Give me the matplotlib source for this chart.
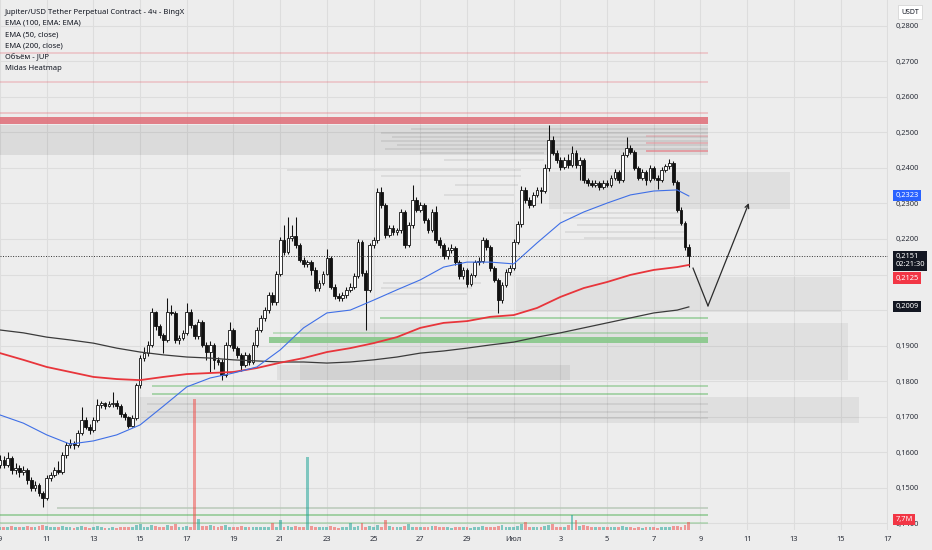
import matplotlib
matplotlib.use("Agg")
import matplotlib.pyplot as plt
import numpy as np
from matplotlib.patches import Rectangle

plt.rcParams["font.family"] = ["Noto Sans", "DejaVu Sans"]

# ---- 4h candles, JUP/USDT, from 9 June (one row = one day, 6 candles) ----
first_open = 0.1565
closes = [
    0.1578, 0.1564, 0.1584, 0.1550, 0.1556, 0.1545,
    0.1550, 0.1522, 0.1500, 0.1508, 0.1486, 0.1471,
    0.1528, 0.1536, 0.1550, 0.1545, 0.1592, 0.1621,
    0.1626, 0.1621, 0.1654, 0.1691, 0.1671, 0.1663,
    0.1691, 0.1733, 0.1738, 0.1730, 0.1736, 0.1739,
    0.1730, 0.1708, 0.1699, 0.1674, 0.1696, 0.1789,
    0.1865, 0.1879, 0.1902, 0.1995, 0.1955, 0.1930,
    0.1916, 0.1995, 0.1992, 0.1916, 0.1922, 0.1936,
    0.1995, 0.1958, 0.1927, 0.1967, 0.1902, 0.1882,
    0.1902, 0.1860, 0.1854, 0.1817, 0.1902, 0.1944,
    0.1893, 0.1874, 0.1846, 0.1874, 0.1854, 0.1902,
    0.1944, 0.1978, 0.2000, 0.2042, 0.2023, 0.2102,
    0.2197, 0.2163, 0.2203, 0.2208, 0.2183, 0.2141,
    0.2130, 0.2136, 0.2113, 0.2062, 0.2076, 0.2102,
    0.2147, 0.2065, 0.2040, 0.2034, 0.2042, 0.2057,
    0.2065, 0.2096, 0.2192, 0.2104, 0.2057, 0.2183,
    0.2197, 0.2332, 0.2296, 0.2211, 0.2231, 0.2220,
    0.2225, 0.2276, 0.2183, 0.2239, 0.2310, 0.2282,
    0.2296, 0.2253, 0.2225, 0.2276, 0.2197, 0.2183,
    0.2152, 0.2169, 0.2175, 0.2135, 0.2096, 0.2113,
    0.2073, 0.2099, 0.2135, 0.2138, 0.2197, 0.2178,
    0.2118, 0.2085, 0.2028, 0.2071, 0.2107, 0.2118,
    0.2192, 0.2242, 0.2338, 0.2310, 0.2296, 0.2324,
    0.2338, 0.2335, 0.2400, 0.2478, 0.2442, 0.2422,
    0.2403, 0.2422, 0.2408, 0.2442, 0.2408, 0.2422,
    0.2366, 0.2358, 0.2352, 0.2358, 0.2346, 0.2358,
    0.2352, 0.2372, 0.2389, 0.2366, 0.2436, 0.2456,
    0.2445, 0.2400, 0.2372, 0.2389, 0.2366, 0.2400,
    0.2372, 0.2366, 0.2394, 0.2405, 0.2414, 0.2360,
    0.2282, 0.2245, 0.2178, 0.2151,
]
highs = [
    0.1592, 0.1590, 0.1600, 0.1590, 0.1570, 0.1565,
    0.1562, 0.1555, 0.1530, 0.1520, 0.1515, 0.1492,
    0.1535, 0.1545, 0.1558, 0.1575, 0.1600, 0.1630,
    0.1636, 0.1632, 0.1662, 0.1728, 0.1700, 0.1680,
    0.1700, 0.1750, 0.1745, 0.1742, 0.1745, 0.1770,
    0.1748, 0.1736, 0.1712, 0.1703, 0.1705, 0.1795,
    0.1875, 0.1895, 0.1912, 0.2005, 0.1998, 0.1962,
    0.1935, 0.2035, 0.2015, 0.1998, 0.1930, 0.1945,
    0.2020, 0.2002, 0.1962, 0.1975, 0.1972, 0.1910,
    0.1912, 0.1908, 0.1868, 0.1862, 0.1910, 0.1966,
    0.1950, 0.1900, 0.1880, 0.1882, 0.1880, 0.1910,
    0.1952, 0.1985, 0.2010, 0.2050, 0.2052, 0.2110,
    0.2205, 0.2240, 0.2262, 0.2240, 0.2262, 0.2190,
    0.2150, 0.2142, 0.2140, 0.2120, 0.2085, 0.2110,
    0.2172, 0.2152, 0.2072, 0.2048, 0.2050, 0.2064,
    0.2075, 0.2105, 0.2200, 0.2198, 0.2112, 0.2190,
    0.2205, 0.2343, 0.2345, 0.2302, 0.2240, 0.2238,
    0.2232, 0.2285, 0.2282, 0.2248, 0.2353, 0.2318,
    0.2305, 0.2302, 0.2260, 0.2285, 0.2292, 0.2205,
    0.2188, 0.2178, 0.2185, 0.2180, 0.2140, 0.2120,
    0.2118, 0.2105, 0.2142, 0.2148, 0.2205, 0.2202,
    0.2182, 0.2125, 0.2090, 0.2078, 0.2115, 0.2128,
    0.2200, 0.2250, 0.2350, 0.2345, 0.2318, 0.2332,
    0.2345, 0.2345, 0.2410, 0.2521, 0.2490, 0.2450,
    0.2430, 0.2432, 0.2440, 0.2462, 0.2450, 0.2432,
    0.2428, 0.2372, 0.2365, 0.2366, 0.2362, 0.2365,
    0.2366, 0.2380, 0.2398, 0.2395, 0.2445, 0.2487,
    0.2465, 0.2450, 0.2405, 0.2396, 0.2395, 0.2408,
    0.2405, 0.2380, 0.2402, 0.2412, 0.2425, 0.2420,
    0.2365, 0.2290, 0.2252, 0.2185,
]
lows = [
    0.1555, 0.1555, 0.1558, 0.1540, 0.1538, 0.1530,
    0.1535, 0.1510, 0.1490, 0.1492, 0.1478, 0.1446,
    0.1465, 0.1520, 0.1530, 0.1540, 0.1540, 0.1585,
    0.1612, 0.1610, 0.1615, 0.1650, 0.1665, 0.1652,
    0.1658, 0.1685, 0.1725, 0.1722, 0.1726, 0.1728,
    0.1722, 0.1700, 0.1690, 0.1668, 0.1670, 0.1690,
    0.1780, 0.1858, 0.1872, 0.1895, 0.1945, 0.1922,
    0.1880, 0.1910, 0.1985, 0.1908, 0.1905, 0.1915,
    0.1930, 0.1950, 0.1918, 0.1920, 0.1895, 0.1860,
    0.1825, 0.1835, 0.1845, 0.1803, 0.1812, 0.1895,
    0.1885, 0.1865, 0.1830, 0.1840, 0.1845, 0.1848,
    0.1895, 0.1938, 0.1970, 0.1992, 0.2015, 0.2015,
    0.2095, 0.2155, 0.2158, 0.2195, 0.2175, 0.2135,
    0.2122, 0.2122, 0.2100, 0.2055, 0.2055, 0.2070,
    0.2098, 0.2058, 0.2030, 0.2025, 0.2026, 0.2035,
    0.2050, 0.2060, 0.2090, 0.2095, 0.1944, 0.2050,
    0.2175, 0.2190, 0.2288, 0.2202, 0.2205, 0.2212,
    0.2212, 0.2218, 0.2175, 0.2178, 0.2232, 0.2275,
    0.2275, 0.2245, 0.2218, 0.2220, 0.2190, 0.2175,
    0.2145, 0.2145, 0.2160, 0.2128, 0.2088, 0.2088,
    0.2065, 0.2068, 0.2092, 0.2128, 0.2132, 0.2170,
    0.2110, 0.2078, 0.1992, 0.2020, 0.2065, 0.2100,
    0.2112, 0.2185, 0.2235, 0.2302, 0.2288, 0.2290,
    0.2318, 0.2300, 0.2328, 0.2392, 0.2435, 0.2415,
    0.2395, 0.2396, 0.2400, 0.2402, 0.2400, 0.2365,
    0.2358, 0.2350, 0.2345, 0.2345, 0.2338, 0.2340,
    0.2345, 0.2346, 0.2366, 0.2358, 0.2360, 0.2430,
    0.2438, 0.2393, 0.2365, 0.2366, 0.2352, 0.2360,
    0.2365, 0.2340, 0.2360, 0.2388, 0.2398, 0.2352,
    0.2275, 0.2238, 0.2170, 0.2120,
]
# volume, millions JUP
volumes = [
    3, 3.5, 3, 4, 3, 3,
    3.5, 4, 3, 3, 4, 5,
    4, 3, 3, 3.5, 4, 3,
    3, 2.5, 3, 4, 3, 2.5,
    3, 4, 3, 2.5, 2.5, 3,
    2.5, 3, 3, 3.5, 3, 5,
    6, 3, 3, 5, 4, 3,
    3, 5, 4, 6, 3, 3,
    4, 3.5, 131, 11, 4, 4,
    5, 4, 3, 4, 5, 3,
    3, 3, 4, 3, 3, 3.5,
    3, 3, 3, 3.5, 7, 3,
    10, 3, 4, 3, 4, 3,
    3, 73, 4, 3, 3, 3,
    3, 4, 3, 2.5, 3, 3,
    7, 3, 4, 7, 3, 4,
    3, 5, 3, 10, 4, 3,
    3, 3, 4, 6, 3, 3,
    3, 3, 3, 4, 4, 3,
    3, 3, 2.5, 3, 3, 3,
    3, 2.5, 3, 3, 4, 3,
    3, 3, 4, 5, 3, 3,
    3, 4, 6, 8, 3, 3,
    3, 3, 4, 5, 6, 3,
    3, 3, 5, 15, 10, 4,
    5, 4, 3, 3, 3, 3,
    3, 3, 3, 3, 4, 3,
    3, 2.5, 3, 2.5, 3, 3,
    3, 2.5, 3, 3, 3, 4,
    4, 3, 5, 7.7,
]

# ---- moving averages, read once per day (last point = last candle) ----
ema_days = [9, 10, 11, 12, 13, 14, 15, 16, 17, 18, 19, 20, 21, 22, 23, 24,
            25, 26, 27, 28, 29, 30, 31, 32, 33, 34, 35, 36, 37, 38, 38.5]
ema50 = [0.1705, 0.1682, 0.1649, 0.1623, 0.1632, 0.1649, 0.1677, 0.1730,
         0.1784, 0.1809, 0.1823, 0.1840, 0.1888, 0.1950, 0.1992, 0.2000,
         0.2028, 0.2057, 0.2085, 0.2121, 0.2135, 0.2135, 0.2130, 0.2189,
         0.2245, 0.2276, 0.2301, 0.2324, 0.2335, 0.2338, 0.2321]
ema100 = [0.1879, 0.1860, 0.1840, 0.1826, 0.1812, 0.1806, 0.1803, 0.1812,
          0.1820, 0.1823, 0.1826, 0.1837, 0.1852, 0.1865, 0.1882, 0.1893,
          0.1907, 0.1924, 0.1950, 0.1964, 0.1969, 0.1981, 0.1986, 0.2006,
          0.2037, 0.2062, 0.2079, 0.2099, 0.2113, 0.2121, 0.2127]
ema200 = [0.1944, 0.1936, 0.1924, 0.1916, 0.1907, 0.1893, 0.1882, 0.1874,
          0.1868, 0.1865, 0.1860, 0.1857, 0.1854, 0.1854, 0.1851, 0.1854,
          0.1860, 0.1868, 0.1879, 0.1885, 0.1893, 0.1902, 0.1910, 0.1924,
          0.1936, 0.1950, 0.1964, 0.1978, 0.1992, 0.2000, 0.2009]

# ---- Midas heatmap ----
# gray zones: start day, end day, low, high, intensity
zone_start = [9.0, 32.5, 31.1, 21.85, 20.86, 15.0]
zone_end = [39.32, 42.83, 45.0, 45.3, 33.4, 45.8]
zone_low = [0.2436, 0.2284, 0.1995, 0.1803, 0.1803, 0.1682]
zone_high = [0.2520, 0.2388, 0.2093, 0.1964, 0.1846, 0.1756]
zone_strength = [1.0, 0.75, 0.7, 0.7, 0.8, 0.8]
# gray streaks: start day, end day, price
streak_start = [26.6, 25.3, 25.8, 25.3, 26.0, 25.5, 27.0, 28.0, 21.3, 25.3,
                28.5, 28.0, 29.0, 33.1, 33.4, 33.7, 33.2, 34.0, 25.4, 25.3,
                25.6, 15.3, 15.3, 29.0]
streak_end = [39.32, 39.32, 39.32, 39.32, 39.32, 39.32, 32.3, 32.3, 31.3, 31.3,
              31.2, 31.0, 31.0, 38.1, 38.1, 38.3, 38.3, 38.4, 29.6, 29.2,
              29.0, 39.32, 39.32, 39.32]
streak_price = [0.2509, 0.2498, 0.2487, 0.2476, 0.2464, 0.2453, 0.2442, 0.2422,
                0.2394, 0.2377, 0.2352, 0.2324, 0.2301, 0.2273, 0.2259, 0.2239,
                0.2220, 0.2203, 0.2076, 0.2062, 0.2045, 0.1736, 0.1713, 0.1696]
# red (ask) levels
red_band = (9.0, 39.32, 0.2523, 0.2543)
red_start = [9.0, 9.0, 9.0, 36.67, 36.67, 36.67]
red_price = [0.2723, 0.2642, 0.2555, 0.2490, 0.2470, 0.2448]
red_strength = [0.35, 0.35, 0.4, 0.35, 0.45, 0.7]
# green (bid) levels
green_band = (20.52, 39.32, 0.1907, 0.1924)
green_start = [25.27, 20.69, 15.5, 15.5, 9.0, 9.0]
green_price = [0.1978, 0.1936, 0.1787, 0.1764, 0.1424, 0.1401]
green_strength = [0.5, 0.35, 0.45, 0.5, 0.55, 0.35]
gray_level = (11.45, 39.32, 0.1443)
level_end = 39.32

# hand drawn projection arrow
arrow_days = [38.68, 39.32, 41.07]
arrow_prices = [0.2118, 0.2012, 0.2301]

last_price = 0.2151
price_ticks = [0.28, 0.27, 0.26, 0.25, 0.24, 0.23, 0.22, 0.21, 0.20, 0.19,
               0.18, 0.17, 0.16, 0.15, 0.14]
hidden_ticks = [0.21, 0.20]  # covered by the price tags
date_ticks = [9, 11, 13, 15, 17, 19, 21, 23, 25, 27, 29, 31, 33, 35, 37, 39,
              41, 43, 45, 47]
date_labels = ["9", "11", "13", "15", "17", "19", "21", "23", "25", "27", "29",
               "Июл", "3", "5", "7", "9", "11", "13", "15", "17"]
legend_lines = [
    "Jupiter/USD Tether Perpetual Contract - 4ч - BingX",
    "EMA (100, EMA: EMA)",
    "EMA (50, close)",
    "EMA (200, close)",
    "Объём - JUP",
    "Midas Heatmap",
]

BG = "#ededed"
INK = "#131722"

fig = plt.figure(figsize=(9.32, 5.5), dpi=100, facecolor=BG)
ax = fig.add_axes([0, 20 / 550, 888 / 932, 530 / 550], facecolor=BG)
ax.set_xlim(9.0, 47.03)
ax.set_ylim(0.13814, 0.28723)
for side in ax.spines.values():
    side.set_visible(False)

ax.set_xticks(date_ticks, date_labels)
ax.set_yticks(price_ticks, ["" if p in hidden_ticks else f"{p:.4f}".replace(".", ",")
                            for p in price_ticks])
ax.yaxis.tick_right()
ax.tick_params(axis="both", length=0, labelsize=5.4, labelcolor="#2a2e39")
ax.tick_params(axis="y", pad=5.8)
ax.tick_params(axis="x", pad=4.5)
ax.grid(color="#dddddd", linewidth=0.8)
ax.set_axisbelow(True)

# heatmap
for x0, x1, lo, hi, s in zip(zone_start, zone_end, zone_low, zone_high, zone_strength):
    ax.add_patch(Rectangle((x0, lo), x1 - x0, hi - lo, facecolor="black",
                           alpha=0.075 * s, linewidth=0, zorder=1))
ax.hlines(streak_price, streak_start, streak_end, color="black", alpha=0.08,
          linewidth=1.3, zorder=1.2)
ax.add_patch(Rectangle((red_band[0], red_band[2]), red_band[1] - red_band[0],
                       red_band[3] - red_band[2], facecolor="#e0737d",
                       alpha=0.9, linewidth=0, zorder=1.3))
for x0, p, s in zip(red_start, red_price, red_strength):
    ax.hlines(p, x0, level_end, color="#e86b77", alpha=s, linewidth=1.1, zorder=1.3)
ax.add_patch(Rectangle((green_band[0], green_band[2]), green_band[1] - green_band[0],
                       green_band[3] - green_band[2], facecolor="#8cc98e",
                       alpha=0.95, linewidth=0, zorder=1.3))
for x0, p, s in zip(green_start, green_price, green_strength):
    ax.hlines(p, x0, level_end, color="#4caf50", alpha=s, linewidth=1.2, zorder=1.3)
ax.hlines(gray_level[2], gray_level[0], gray_level[1], color="#b9c9b9",
          linewidth=1.1, zorder=1.3)

# candles
n = len(closes)
days = 9 + np.arange(n) / 6
c = np.array(closes)
o = np.array([first_open] + closes[:-1])
hi = np.maximum(np.array(highs), np.maximum(o, c))
lo = np.minimum(np.array(lows), np.minimum(o, c))
up = c >= o
body_lo = np.minimum(o, c)
body_h = np.maximum(np.abs(c - o), 0.00025)
ax.vlines(days, lo, hi, color="#111111", linewidth=0.75, zorder=3)
ax.bar(days[up], body_h[up], bottom=body_lo[up], width=0.118, color="white",
       edgecolor="#111111", linewidth=0.6, zorder=4)
ax.bar(days[~up], body_h[~up], bottom=body_lo[~up], width=0.118, color="#111111",
       edgecolor="#111111", linewidth=0.6, zorder=4)

# EMAs
ax.plot(ema_days, ema200, color="#3b3b3b", linewidth=0.9, zorder=5)
ax.plot(ema_days, ema100, color="#e8353b", linewidth=1.3, zorder=5)
ax.plot(ema_days, ema50, color="#3f6fe6", linewidth=0.8, zorder=5)

# last price line
ax.axhline(last_price, color="#333333", linewidth=0.7, linestyle=(0, (1, 1.6)), zorder=5)

# projection arrow
ax.plot(arrow_days[:2], arrow_prices[:2], color="#2b2b2b", linewidth=0.9, zorder=6)
ax.annotate("", xy=(arrow_days[2], arrow_prices[2]),
            xytext=(arrow_days[1], arrow_prices[1]),
            arrowprops=dict(arrowstyle="->", color="#2b2b2b", lw=0.9,
                            shrinkA=0, shrinkB=0, mutation_scale=7),
            zorder=6)

# volume overlay
vax = fig.add_axes(ax.get_position(), sharex=ax, zorder=3)
vax.set_ylim(0, 530)
vax.patch.set_alpha(0)
vax.axis("off")
vol = np.array(volumes)
vax.bar(days[up], vol[up], width=0.12, color="#26a69a", alpha=0.55, linewidth=0)
vax.bar(days[~up], vol[~up], width=0.12, color="#ef5350", alpha=0.55, linewidth=0)

# legend
for k, line in enumerate(legend_lines):
    ax.text(5 / 888, 1 - (12 + 11.4 * k) / 530, line, transform=ax.transAxes,
            fontsize=5.5, color=INK, va="center", ha="left", zorder=10,
            fontweight="semibold" if k == 0 else "normal")

# price tags on the scale
tx = ax.get_yaxis_transform()
tag_x = 895.5 / 888


def tag(y, text, face, color="white"):
    ax.text(tag_x, y, text, transform=tx, fontsize=5.4, color=color, ha="left",
            va="center", zorder=20, clip_on=False, linespacing=1.25,
            bbox=dict(boxstyle="square,pad=0.28", facecolor=face, edgecolor="none"))


tag(0.2323, "0,2323", "#2962ff")
tag(0.21385, "0,2151\n02:21:30", "#131722")
tag(0.2090, "0,2125", "#f23645")
tag(0.2009, "0,2009", "#131722")
tag(0.1412, "7,7M", "#f23645")

fig.text(910 / 932, 1 - 12 / 550, "USDT", fontsize=5, color=INK, ha="center",
         va="center", bbox=dict(boxstyle="square,pad=0.5", facecolor="white",
                                edgecolor="#d6d6d6", linewidth=0.6))

fig.savefig("out.png", dpi=100, facecolor=BG)
